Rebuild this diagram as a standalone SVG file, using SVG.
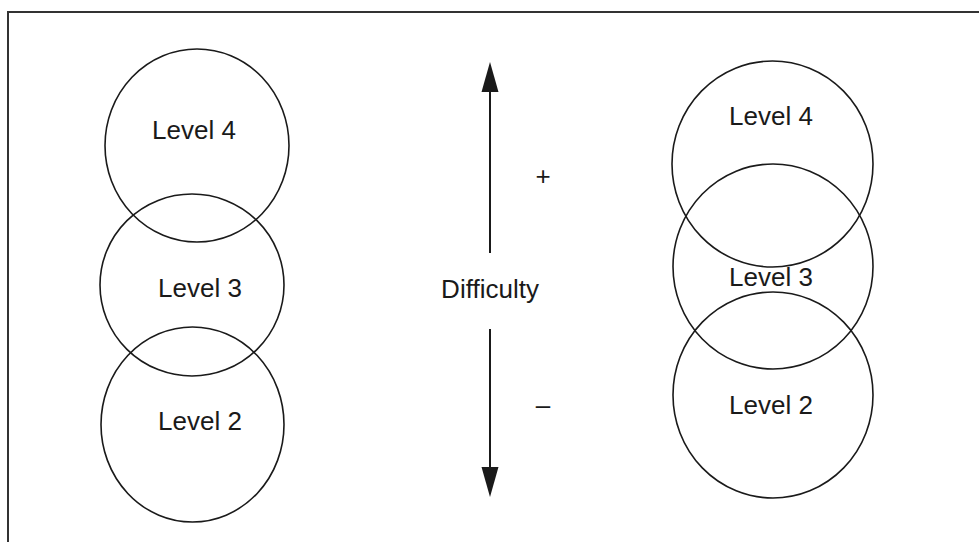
<svg xmlns="http://www.w3.org/2000/svg" width="979" height="542" viewBox="0 0 979 542">
<style>
.c{fill:none;stroke:#1a1a1a;stroke-width:1.6}
.t{font-family:"Liberation Sans",Arial,sans-serif;font-size:26px;fill:#1a1a1a;text-anchor:middle}
.ln{stroke:#1a1a1a;stroke-width:2;fill:none}
</style>
<defs>
<marker id="ah" viewBox="0 0 17 30" refX="0" refY="8.5" markerWidth="17" markerHeight="30" markerUnits="userSpaceOnUse" orient="auto">
<path d="M0,0 L30,8.5 L0,17 Z" fill="#1a1a1a"/>
</marker>
</defs>
<rect width="979" height="542" fill="#ffffff"/>
<g id="frame">
<path d="M8,542 L8,12 L979,12" fill="none" stroke="#333" stroke-width="2"/>
</g>
<g id="left-level4"><ellipse class="c" cx="197" cy="145.5" rx="92" ry="96.5"/><text class="t" x="194" y="139">Level 4</text></g>
<g id="left-level3"><ellipse class="c" cx="192" cy="285" rx="92" ry="91"/><text class="t" x="200" y="297">Level 3</text></g>
<g id="left-level2"><ellipse class="c" cx="192.5" cy="424.5" rx="91.5" ry="97.5"/><text class="t" x="200" y="430">Level 2</text></g>
<g id="right-level4"><ellipse class="c" cx="772.5" cy="164" rx="100.5" ry="103"/><text class="t" x="771" y="125">Level 4</text></g>
<g id="right-level3"><ellipse class="c" cx="773" cy="266.5" rx="100" ry="102.5"/><text class="t" x="771" y="286">Level 3</text></g>
<g id="right-level2"><ellipse class="c" cx="773" cy="395" rx="100" ry="103"/><text class="t" x="771" y="414">Level 2</text></g>
<g id="difficulty"><text class="t" x="490" y="298">Difficulty</text>
<text class="t" x="543" y="185">+</text>
<text class="t" x="543" y="414">–</text></g>
<g id="connectors">
<line class="ln" x1="490" y1="253" x2="490" y2="92"/>
<path d="M490,62 L498.5,92 L481.5,92 Z" fill="#1a1a1a"/>
<line class="ln" x1="490" y1="329" x2="490" y2="467"/>
<path d="M490,497 L498.5,467 L481.5,467 Z" fill="#1a1a1a"/>
</g>
</svg>
